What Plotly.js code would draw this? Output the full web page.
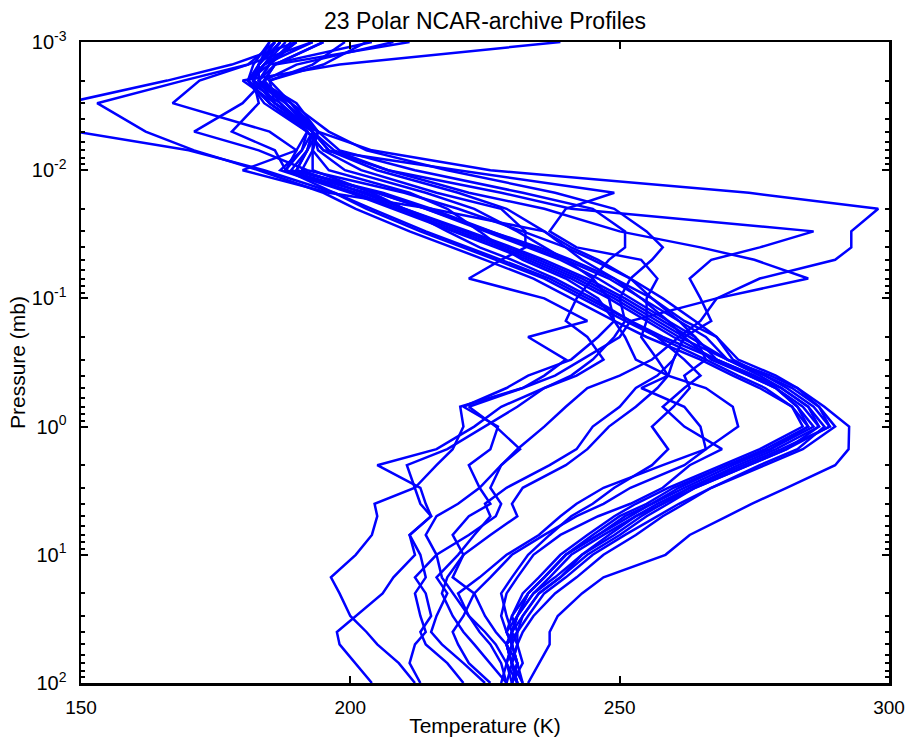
<!DOCTYPE html>
<html>
<head>
<meta charset="utf-8">
<script src="https://cdn.plot.ly/plotly-3.0.1.min.js"></script>
<style>html,body{margin:0;padding:0;background:#fff;}#chart{width:912px;height:744px;}</style>
</head>
<body>
<div id="chart"></div>
<script>
// Pressure levels (mb), shared by all profiles
const pressure = [100,70,50,40,30,20,15,10,7,5,4,3,2,1.5,1,0.7,0.5,0.4,0.3,0.2,0.15,0.1,0.07,0.05,0.04,0.03,0.02,0.015,0.01,0.007,0.005,0.003,0.002,0.0015,0.001];

// Temperature profiles (K), one value per pressure level
const t01 = [233,235,237,237,238.5,243,247,258.5,263,270,274.5,281,290,292.5,292.6,288,283,279,272,268,262,256,249,241,235,226,214,205,190,192,193,188,183,183,187];
const t02 = [231,230,229,230,231,234,238,243,249,254,258,263,272,279,287,285,280,276,270,263,258,251,244,236,230,222,210,202,191,193,194,189,182,183,186];
const t03 = [230,231,230,229,230,233,236,240,246,251,256,262,271,278,286,283,279,275,268,258,252,244,237,228,222,214,204,197,188,190,185,167,172,181,193];
const t04 = [232,231,229,230,232,235,239,244,250,255,259,264,274,281,289,287,283,278,270,266,261,254,248,240,234,226,215,206,189,192,193,188,182,184,188];
const t05 = [229,230,231,231,230,232,235,239,244,249,253,259,269,276,284,282,276,271,265,255,249,241,234,225,219,211,201,195,183,171,162,153,169,181,186];
const t06 = [231,229,230,231,233,236,240,245,251,257,261,267,276,283,288,285,280,275,268,260,255,248,241,233,227,219,208,200,187,191,193,189,183,185,190];
const t07 = [230,232,231,230,231,234,237,241,247,253,257,263,273,280,289,286,281,277,271,268,264,258,252,245,240,232,220,210,192,183,171,180,184,186,195];
const t08 = [228,229,230,229,231,233,236,240,245,250,255,260,270,277,285,282,277,272,266,257,251,243,236,227,221,213,203,197,184,170,149,147,166,178,190];
const t09 = [231,230,229,231,232,235,239,243,248,253,258,264,274,281,287,284,279,274,267,262,257,250,243,235,229,221,210,203,188,186,178,183,182,183,187];
const t10 = [230,231,230,230,231,233,236,240,246,252,256,261,270,278,285,283,279,274,268,264,259,252,246,239,233,225,214,205,190,192,194,190,183,185,189];
const t11 = [232,230,231,232,234,238,242,247,253,258,262,267,277,284,290,287,282,277,270,261,256,249,242,234,228,220,209,201,188,191,192,187,181,182,185];
const t12 = [204,201,198,197.5,201,206,208,212,211,215,214,213,205,216,223,228,236,242,247,244,240,242,245,248,251,251,245,232,212,198,194,186,185,193,199];
const t13 = [212,209,205,203,200,198,196.4,201,204,205,204.5,212,216,219,221,220.4,232,238,243,250,252,268,285,275,265,250,236,222,207,196,193,185,181,185,204];
const t14 = [221,218,214,213,215,214,212,216,222,227,228,226,228,231,236,240,244,250,256,261,265,268,276,290,293,293,298,274,226,204,194,186,183,186,211];
const t15 = [226,222,220,219,221,223,219,221,226,231,230,232,240,244,248,253,257,259,260,262,267,265,263,267,276,286,241,228,207,197,193,187,184,190,208];
const t16 = [229,228,226,224,222,220,224,229,235,239,242,247,258,266,272,271,266,259,257,254,255,255,257,254,242,237,240,249,220,195,192,184,181,184,190];
const t17 = [230,229,227,225,222,219,217,216,214,216,220,224,228,231.5,227,222,232,236,240,233,244,236,222,228,232.5,232.5,228,216,202,195,192,185,181,184,187];
const t18 = [231,230,229,227,225,223,226,230,236,242,247,252,262,266,265,262,254,259,253,251,249,246,240,232,228,224,218,211,196,193,193,186,182,183,185];
const t19 = [230,231,230,229,228,229,231,234,239,246,252,258,263,269,262,258,262,265,262,257,252,245,238,230,224,218,210,204,193,193,194,188,184,186,195];
const t20 = [213,211,212,214,213,212,214,213,211,215,213,212,210.5,218,225,231,236,241,245,249,251,250,252,256,258,255,249,238,218,203,196,189,185,195,203];
const t21 = [225,221,217,215,216,218,216,220,223,226,225,229,237,242,245,250,253,257,260,262,259,254,249,243,240,236,229,220,205,196,193,186,180,198,239];
const t22 = [229,226,223,221,219,217,218,221,219,222,226,224,222,226,227.4,221,229,233,241,246,249,248,245,240,236,231,223,214,199,194,193,186,182,184,193];
const t23 = [231,230,229,230,229,228,230,233,237,241,245,249,256,259,256,260,263,262,266,264,261,256,252,246,241,236,215,196,180,190,192,185,181,183,186];

const profiles = [t01,t02,t03,t04,t05,t06,t07,t08,t09,t10,t11,t12,t13,t14,t15,t16,t17,t18,t19,t20,t21,t22,t23];

// Axis labels
const xTicks = [150,200,250,300];
const yTickVals = [0.001,0.01,0.1,1,10,100];
const yTickText = ['10<sup>-3</sup>','10<sup>-2</sup>','10<sup>-1</sup>','10<sup>0</sup>','10<sup>1</sup>','10<sup>2</sup>'];

const minorVals = [];
for (let e = -3; e < 2; e++) {
  for (let m = 2; m <= 9; m++) minorVals.push(m * Math.pow(10, e));
}

const traces = profiles.map(t => ({
  x: t, y: pressure, type: 'scatter', mode: 'lines',
  line: {color: 'rgb(0,0,255)', width: 2.5},
  hoverinfo: 'skip', showlegend: false
}));

const fam = '"Liberation Sans", Arial, Helvetica, sans-serif';
const fnt = (s) => ({family: fam, size: s, color: '#000'});

const layout = {
  width: 912, height: 744,
  margin: {l: 81, r: 23, t: 42, b: 61, pad: 0},
  paper_bgcolor: '#fff', plot_bgcolor: '#fff',
  font: fnt(19),
  showlegend: false,
  title: {text: '23 Polar NCAR-archive Profiles', font: fnt(23),
          x: 0.5, xref: 'paper', xanchor: 'center', y: 0.972, yref: 'container', yanchor: 'middle'},
  xaxis: {
    range: [150, 300], tickmode: 'array', tickvals: xTicks, ticktext: xTicks.map(String),
    ticks: 'inside', ticklen: 7, tickwidth: 2, tickcolor: '#000',
    showline: true, linewidth: 2.5, linecolor: '#000', mirror: 'allticks',
    showgrid: false, zeroline: false, automargin: false,
    tickfont: fnt(19), ticklabelstandoff: 6,
    title: {text: 'Temperature (K)', font: fnt(21), standoff: 1}
  },
  yaxis: {
    type: 'log', range: [2, -3], automargin: false,
    tickmode: 'array', tickvals: yTickVals, ticktext: yTickText,
    ticks: 'inside', ticklen: 7, tickwidth: 2, tickcolor: '#000',
    minor: {tickmode: 'array', tickvals: minorVals, ticks: 'inside', ticklen: 4, tickwidth: 2, tickcolor: '#000', showgrid: false},
    showline: true, linewidth: 2.5, linecolor: '#000', mirror: 'allticks',
    showgrid: false, zeroline: false,
    tickfont: fnt(20), ticklabelstandoff: 8,
    title: {text: 'Pressure (mb)', font: fnt(21), standoff: 1}
  }
};

Plotly.newPlot('chart', traces, layout, {displayModeBar: false, staticPlot: true});
</script>
</body>
</html>
